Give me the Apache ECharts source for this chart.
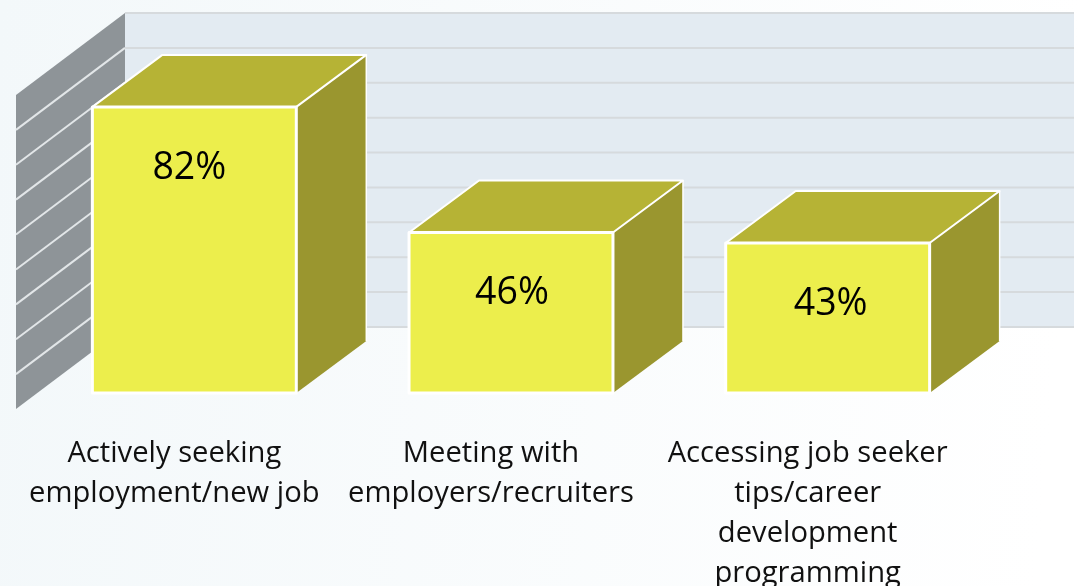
<!DOCTYPE html>
<html>
<head>
<meta charset="utf-8">
<style>html,body{margin:0;padding:0;background:#fff}#c{width:1078px;height:586px}</style>
<script src="https://cdn.jsdelivr.net/npm/echarts@6/dist/echarts.min.js"></script>
</head>
<body>
<div id="c"></div>
<script>
const categories = ['Actively seeking\nemployment/new job', 'Meeting with\nemployers/recruiters', 'Accessing job seeker\ntips/career\ndevelopment\nprogramming'];
const values = [82, 46, 43];
const wallTicks = [0, 10, 20, 30, 40, 50, 60, 70, 80, 90];

const chart = echarts.init(document.getElementById('c'), null, { renderer: 'canvas' });

function renderWall(params, api) {
  const cs = params.coordSys;
  const v = api.value(1);
  const y = api.coord([0, v])[1];
  const baseY = api.coord([0, 0])[1];
  const topY = api.coord([0, 90])[1];
  const fx = cs.x - 20, bx = fx + 109, rx = cs.x + cs.width + 88;
  const fo = 16, bo = -66;
  const children = [];
  if (params.dataIndex === 0) {
    children.push({ type: 'polygon', shape: { points: [[bx, topY + bo], [rx, topY + bo], [rx, baseY + bo], [bx, baseY + bo]] }, style: { fill: '#E3EBF2' } });
    children.push({ type: 'polygon', shape: { points: [[fx, topY + fo], [bx, topY + bo], [bx, baseY + bo], [fx, baseY + fo]] }, style: { fill: '#8E9498' } });
  }
  children.push({ type: 'line', shape: { x1: bx, y1: y + bo, x2: rx, y2: y + bo }, style: { stroke: '#D6DADD', lineWidth: 2 } });
  if (v > 0 && v < 90) {
    children.push({ type: 'line', shape: { x1: fx, y1: y + fo, x2: bx, y2: y + bo }, style: { stroke: '#E2E6E8', lineWidth: 2 } });
  }
  return { type: 'group', children };
}

function renderBar(params, api) {
  const c = api.coord([api.value(0), api.value(1)]);
  const b = api.coord([api.value(0), 0]);
  const w = api.size([1, 0])[0] * 0.644;
  const dx = 70, dy = 52;
  const labelNudge = [-5, 1, 3][params.dataIndex];
  const l = c[0] - w / 2, r = c[0] + w / 2, t = c[1], bt = b[1];
  return {
    type: 'group',
    children: [
      { type: 'polygon', shape: { points: [[r, t], [r + dx, t - dy], [r + dx, bt - dy], [r, bt]] }, style: { fill: '#9A962F', stroke: null } },
      { type: 'polygon', shape: { points: [[l, t], [l + dx, t - dy], [r + dx, t - dy], [r, t]] }, style: { fill: '#B6B335', stroke: '#FFFFFF', lineWidth: 2, lineJoin: 'round' } },
      { type: 'line', shape: { x1: r + dx, y1: t - dy, x2: r + dx, y2: bt - dy }, style: { stroke: '#FFFFFF', lineWidth: 1.5 } },
      { type: 'polygon', shape: { points: [[l, t], [r, t], [r, bt], [l, bt]] }, style: { fill: '#ECEE4C', stroke: '#FFFFFF', lineWidth: 3, lineJoin: 'round' } },
      { type: 'text', x: c[0] + labelNudge, y: t + 61, style: { text: api.value(1) + '%', fill: '#000', fontFamily: '"Open Sans"', fontSize: 37.5, align: 'center', verticalAlign: 'middle' } }
    ]
  };
}

chart.setOption({
  animation: false,
  backgroundColor: new echarts.graphic.LinearGradient(0, 0, 1, 0.15, [
    { offset: 0, color: '#F3F8FA' }, { offset: 1, color: '#FFFFFF' }
  ]),
  grid: { left: 36, right: 92, top: 79, bottom: 193, outerBoundsMode: 'none' },
  xAxis: {
    type: 'category',
    data: categories,
    axisLine: { show: false }, axisTick: { show: false },
    axisLabel: { interval: 0, color: '#111', fontFamily: '"Open Sans"', fontSize: 29.2, lineHeight: 40, margin: 41, align: 'center', verticalAlign: 'top', padding: [0, 40, 0, 0] }
  },
  yAxis: { type: 'value', min: 0, max: 90, interval: 10, show: false, splitLine: { show: false } },
  series: [
    { type: 'custom', coordinateSystem: 'cartesian2d', renderItem: renderWall, data: wallTicks.map(t => [0, t]), encode: { x: 0, y: 1 }, silent: true, clip: false, z: 1 },
    { type: 'custom', coordinateSystem: 'cartesian2d', renderItem: renderBar, data: values.map((v, i) => [i, v]), encode: { x: 0, y: 1 }, clip: false, z: 2 }
  ]
});
</script>
</body>
</html>
